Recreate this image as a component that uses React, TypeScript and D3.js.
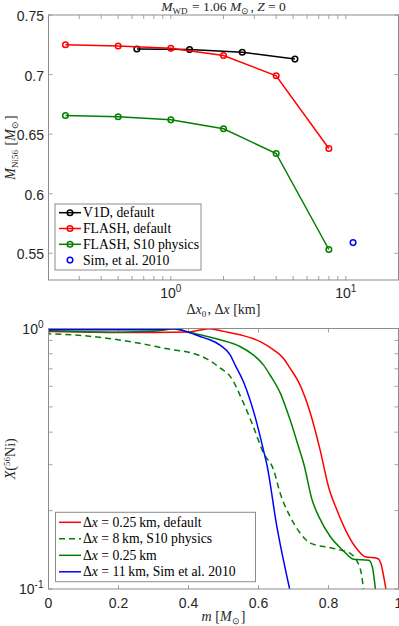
import React, { useEffect, useRef } from 'react'
import * as d3 from 'd3'

// top panel: Ni56 mass vs. resolution
const dxFlash = [0.25, 0.5, 1, 2, 4, 8]
const niFlashDefault = [0.725, 0.724, 0.722, 0.716, 0.699, 0.638]
const niFlashS10 = [0.6657, 0.6646, 0.662, 0.6545, 0.6338, 0.5532]
const dxV1D = [0.64, 1.28, 2.56, 5.12]
const niV1D = [0.7215, 0.721, 0.7187, 0.713]
const dxSim = [11]
const niSim = [0.559]
const topYTicks = [0.55, 0.6, 0.65, 0.7, 0.75]
const topXTicks = [1, 10]

// bottom panel: X(56Ni) profiles vs mass coordinate
const mRed = [0, 0.1, 0.2, 0.3, 0.4, 0.43, 0.46, 0.5, 0.547, 0.605, 0.643, 0.671, 0.69, 0.714, 0.748, 0.776, 0.8, 0.824, 0.853, 0.882, 0.905, 0.94, 0.95, 0.958, 0.964]
const xRed = [0.974, 0.97, 0.966, 0.966, 0.97, 0.985, 0.998, 0.975, 0.946, 0.891, 0.828, 0.769, 0.704, 0.625, 0.474, 0.342, 0.247, 0.201, 0.164, 0.142, 0.133, 0.131, 0.125, 0.111, 0.1]
const mGreenDash = [0, 0.001, 0.07, 0.165, 0.26, 0.357, 0.39, 0.452, 0.49, 0.519, 0.557, 0.585, 0.614, 0.643, 0.662, 0.69, 0.719, 0.748, 0.805, 0.834, 0.862, 0.891, 0.9]
const xGreenDash = [0.985, 0.955, 0.946, 0.918, 0.878, 0.828, 0.816, 0.765, 0.706, 0.655, 0.518, 0.421, 0.333, 0.287, 0.233, 0.19, 0.164, 0.15, 0.144, 0.141, 0.137, 0.119, 0.1]
const mGreen = [0, 0.1, 0.2, 0.3, 0.357, 0.4, 0.433, 0.49, 0.547, 0.585, 0.614, 0.633, 0.662, 0.69, 0.714, 0.73, 0.753, 0.772, 0.805, 0.843, 0.871, 0.915, 0.925, 0.934]
const xGreen = [0.98, 0.972, 0.968, 0.975, 0.995, 0.97, 0.946, 0.905, 0.853, 0.792, 0.725, 0.663, 0.566, 0.447, 0.353, 0.3, 0.22, 0.19, 0.159, 0.14, 0.13, 0.129, 0.122, 0.1]
const mBlue = [0, 0.1, 0.2, 0.3, 0.36, 0.404, 0.433, 0.461, 0.49, 0.519, 0.533, 0.557, 0.59, 0.614, 0.624, 0.652, 0.689]
const xBlue = [0.99, 0.99, 0.988, 0.99, 0.997, 0.962, 0.932, 0.905, 0.864, 0.792, 0.725, 0.625, 0.46, 0.342, 0.3, 0.175, 0.1]
const botXTicks = [0, 0.2, 0.4, 0.6, 0.8, 1]
const botYTicks = [0.1, 1]

const W = 399
const H = 626
const L = 48.5
const R = 398.5
const T1 = 15
const B1 = 280
const T2 = 328.5
const B2 = 589

const AXIS = '#8c8c8c'
const TXT = '#262626'
const GREEN = '#008000'
const SERIF = "'Liberation Serif', 'Times New Roman', serif"
const SANS = "'Liberation Sans', Arial, sans-serif"

const x1 = d3.scaleLog().domain([0.2, 20]).range([L, R])
const y1 = d3.scaleLinear().domain([0.5276, 0.75]).range([B1, T1])
const x2 = d3.scaleLinear().domain([0, 1]).range([L, R])
const y2 = d3.scaleLog().domain([0.1, 1]).range([B2, T2])

const topSeries = [
  { xs: dxV1D, ys: niV1D, color: '#000000', line: true },
  { xs: dxFlash, ys: niFlashDefault, color: '#ff0000', line: true },
  { xs: dxFlash, ys: niFlashS10, color: GREEN, line: true },
  { xs: dxSim, ys: niSim, color: '#0000ff', line: false },
]

const botSeries = [
  { xs: mRed, ys: xRed, color: '#ff0000', dash: null },
  { xs: mGreenDash, ys: xGreenDash, color: GREEN, dash: '6,4' },
  { xs: mGreen, ys: xGreen, color: GREEN, dash: null },
  { xs: mBlue, ys: xBlue, color: '#0000ff', dash: null },
]

const Sub = ({ children, size = 9 }) => (
  <>
    <tspan dy={3} fontSize={size} fontStyle="normal">{children}</tspan>
    <tspan dy={-3}>{'\u200a'}</tspan>
  </>
)

const App = () => {
  const svgRef = useRef()

  useEffect(() => {
    const svg = d3.select(svgRef.current)
    const marks = svg.select('g.marks')
    marks.selectAll('*').remove()

    const tickLen = 4
    const ticks = marks.append('g').attr('stroke', AXIS).attr('stroke-width', 0.8)

    // top panel ticks (log x with minors)
    const topXAll = []
    for (let d = 0.1; d < 20; d *= 10) {
      for (let k = 1; k < 10; k++) {
        const v = d * k
        if (v > 0.2 && v < 20) topXAll.push(v)
      }
    }
    ticks.selectAll('.tx1')
      .data(topXAll.flatMap(v => [[v, B1, -1], [v, T1, 1]]))
      .join('line')
      .attr('x1', d => x1(d[0])).attr('x2', d => x1(d[0]))
      .attr('y1', d => d[1]).attr('y2', d => d[1] + d[2] * tickLen)
    ticks.selectAll('.ty1')
      .data(topYTicks.flatMap(v => [[v, L, 1], [v, R, -1]]))
      .join('line')
      .attr('y1', d => y1(d[0])).attr('y2', d => y1(d[0]))
      .attr('x1', d => d[1]).attr('x2', d => d[1] + d[2] * tickLen)

    // bottom panel ticks
    const botYAll = d3.range(1, 11).map(k => k / 10)
    ticks.selectAll('.tx2')
      .data(botXTicks.flatMap(v => [[v, B2, -1], [v, T2, 1]]))
      .join('line')
      .attr('x1', d => x2(d[0])).attr('x2', d => x2(d[0]))
      .attr('y1', d => d[1]).attr('y2', d => d[1] + d[2] * tickLen)
    ticks.selectAll('.ty2')
      .data(botYAll.flatMap(v => [[v, L, 1], [v, R, -1]]))
      .join('line')
      .attr('y1', d => y2(d[0])).attr('y2', d => y2(d[0]))
      .attr('x1', d => d[1]).attr('x2', d => d[1] + d[2] * tickLen)

    // top panel data
    const line1 = d3.line().x(d => x1(d[0])).y(d => y1(d[1]))
    topSeries.forEach(s => {
      const pts = s.xs.map((v, i) => [v, s.ys[i]])
      if (s.line) {
        marks.append('path')
          .attr('d', line1(pts))
          .attr('fill', 'none')
          .attr('stroke', s.color)
          .attr('stroke-width', 1.5)
      }
      marks.selectAll(null)
        .data(pts)
        .join('circle')
        .attr('cx', d => x1(d[0]))
        .attr('cy', d => y1(d[1]))
        .attr('r', 2.8)
        .attr('fill', 'none')
        .attr('stroke', s.color)
        .attr('stroke-width', 1.5)
    })

    // bottom panel data
    const line2 = d3.line().x(d => x2(d[0])).y(d => y2(d[1])).curve(d3.curveMonotoneX)
    const clipped = marks.append('g').attr('clip-path', 'url(#clipBot)')
    botSeries.forEach(s => {
      const pts = s.xs.map((v, i) => [v, s.ys[i]])
      clipped.append('path')
        .attr('d', line2(pts))
        .attr('fill', 'none')
        .attr('stroke', s.color)
        .attr('stroke-width', 1.5)
        .attr('stroke-dasharray', s.dash)
    })

    // axes boxes
    marks.append('rect').attr('x', L).attr('y', T1).attr('width', R - L).attr('height', B1 - T1)
      .attr('fill', 'none').attr('stroke', AXIS).attr('stroke-width', 1)
    marks.append('rect').attr('x', L).attr('y', T2).attr('width', R - L).attr('height', B2 - T2)
      .attr('fill', 'none').attr('stroke', AXIS).attr('stroke-width', 1)
  }, [])

  const topLegend = [
    { label: 'V1D, default', color: '#000000', line: true },
    { label: 'FLASH, default', color: '#ff0000', line: true },
    { label: 'FLASH, S10 physics', color: GREEN, line: true },
    { label: 'Sim, et al. 2010', color: '#0000ff', line: false },
  ]
  const botLegend = [
    { dx: '0.25', rest: ', default', color: '#ff0000', dash: null },
    { dx: '8', rest: ', S10 physics', color: GREEN, dash: '6,4' },
    { dx: '0.25', rest: '', color: GREEN, dash: null },
    { dx: '11', rest: ', Sim et al. 2010', color: '#0000ff', dash: null },
  ]

  return (
    <svg ref={svgRef} width={W} height={H} style={{ position: 'absolute', left: 0, top: 0, background: '#fff' }}>
      <defs>
        <clipPath id="clipBot">
          <rect x={L} y={T2 - 1} width={R - L} height={B2 - T2 + 1} />
        </clipPath>
      </defs>
      <rect x={0} y={0} width={W} height={H} fill="#fff" />

      {/* title */}
      <text x={(L + R) / 2} y={10.5} textAnchor="middle" fontFamily={SERIF} fontSize={13.5} fill={TXT}>
        <tspan fontStyle="italic">M</tspan><Sub>WD</Sub>
        <tspan> = 1.06 </tspan><tspan fontStyle="italic">M</tspan><Sub>⊙</Sub>
        <tspan>, </tspan><tspan fontStyle="italic">Z</tspan><tspan> = 0</tspan>
      </text>

      {/* tick labels */}
      <g fontFamily={SANS} fontSize={14} fill={TXT}>
        {topYTicks.map(v => (
          <text key={v} x={L - 4.5} y={y1(v) + 6} textAnchor="end">{String(v)}</text>
        ))}
        {topXTicks.map(v => (
          <text key={v} x={x1(v)} y={298} textAnchor="middle">
            10<tspan dy={-6} fontSize={10}>{Math.round(Math.log10(v))}</tspan>
          </text>
        ))}
        {botYTicks.map(v => (
          <text key={v} x={L - 5} y={y2(v) + 5} textAnchor="end">
            10<tspan dy={-6} fontSize={10}>{Math.round(Math.log10(v))}</tspan>
          </text>
        ))}
        {botXTicks.map(v => (
          <text key={v} x={x2(v)} y={608} textAnchor="middle">{String(v)}</text>
        ))}
      </g>

      {/* axis labels */}
      <g fontFamily={SERIF} fontSize={14} fill={TXT}>
        <text transform={`translate(15,${(T1 + B1) / 2}) rotate(-90)`} textAnchor="middle">
          <tspan fontStyle="italic">M</tspan><Sub>Ni56</Sub>
          <tspan> [</tspan><tspan fontStyle="italic">M</tspan><Sub>⊙</Sub><tspan>]</tspan>
        </text>
        <text x={(L + R) / 2} y={314} textAnchor="middle">
          <tspan>Δ</tspan><tspan fontStyle="italic">x</tspan><Sub>0</Sub>
          <tspan>, Δ</tspan><tspan fontStyle="italic">x</tspan><tspan> [km]</tspan>
        </text>
        <text transform={`translate(15,${(T2 + B2) / 2}) rotate(-90)`} textAnchor="middle">
          <tspan fontStyle="italic">X</tspan><tspan>(</tspan>
          <tspan dy={-5} fontSize={9}>56</tspan><tspan dy={5}>Ni)</tspan>
        </text>
        <text x={(L + R) / 2} y={621} textAnchor="middle">
          <tspan fontStyle="italic">m</tspan><tspan> [</tspan><tspan fontStyle="italic">M</tspan><Sub>⊙</Sub><tspan>]</tspan>
        </text>
      </g>

      <g className="marks" />

      {/* top legend */}
      <g fontFamily={SERIF} fontSize={13.7} fill="#000">
        <rect x={55} y={204} width={146} height={66} fill="#fff" stroke={AXIS} strokeWidth={1} />
        {topLegend.map((d, i) => {
          const cy = 212.7 + i * 15.8
          return (
            <g key={d.label}>
              {d.line && <line x1={59} x2={81} y1={cy} y2={cy} stroke={d.color} strokeWidth={1.5} />}
              <circle cx={70} cy={cy} r={2.8} fill="none" stroke={d.color} strokeWidth={1.5} />
              <text x={83} y={cy + 4.5}>{d.label}</text>
            </g>
          )
        })}
      </g>

      {/* bottom legend */}
      <g fontFamily={SERIF} fontSize={13.7} fill="#000">
        <rect x={55.5} y={512.3} width={200} height={69.4} fill="#fff" stroke={AXIS} strokeWidth={1} />
        {botLegend.map((d, i) => {
          const cy = 522.3 + i * 16.5
          return (
            <g key={i}>
              <line x1={59} x2={81} y1={cy} y2={cy} stroke={d.color} strokeWidth={1.5} strokeDasharray={d.dash || undefined} />
              <text x={83} y={cy + 4.5}>
                <tspan>Δ</tspan><tspan fontStyle="italic">x</tspan>
                <tspan>{` = ${d.dx}\u2009km${d.rest}`}</tspan>
              </text>
            </g>
          )
        })}
      </g>
    </svg>
  )
}

export default App
